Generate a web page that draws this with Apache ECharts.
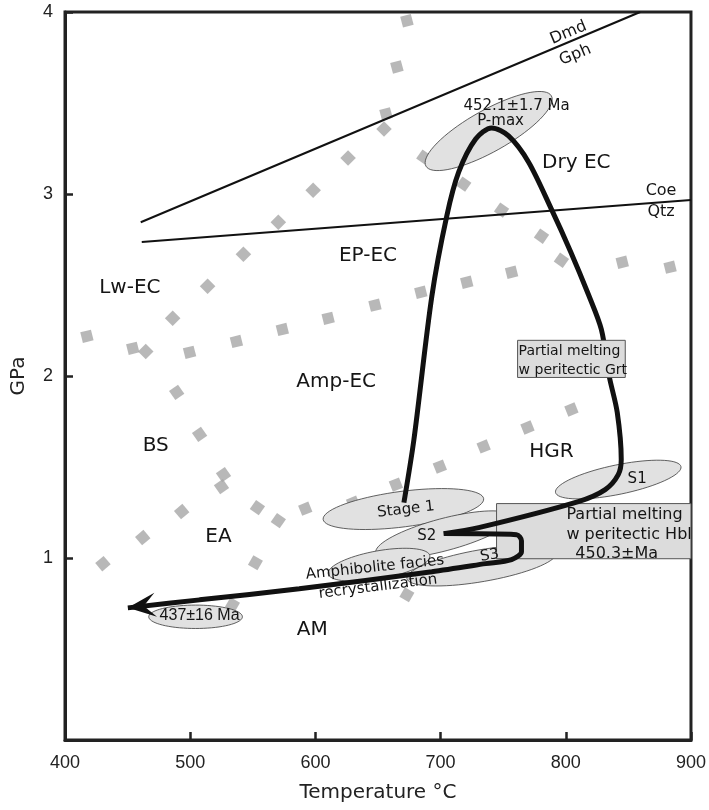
<!DOCTYPE html>
<html>
<head>
<meta charset="utf-8">
<script src="https://cdn.jsdelivr.net/npm/echarts@6/dist/echarts.min.js"></script>
<style>
  html, body { margin: 0; padding: 0; background: #fff; }
  #main { width: 709px; height: 810px; }
</style>
</head>
<body>
<div id="main"></div>
<script>
// reaction curves [T, P]
var dmdGph = [[460.5, 2.845], [859.4, 4.0]];
var coeQtz = [[461.3, 2.736], [900, 2.967]];

// facies boundaries (grey dotted squares)
var lwUpper = [[464.5, 2.135], [486.0, 2.317], [513.9, 2.493], [542.5, 2.669], [570.4, 2.845],
               [598.2, 3.021], [626.1, 3.198], [654.8, 3.357]];
var lwSteep = [[656.4, 3.440], [665.1, 3.698], [673.1, 3.952]];
var dryBound = [[686.6, 3.203], [718.5, 3.054], [748.7, 2.911], [780.6, 2.768], [796.5, 2.636]];
var ampUpper = [[417.5, 2.218], [454.1, 2.152], [499.5, 2.130], [536.9, 2.190], [573.6, 2.256],
                [610.2, 2.317], [647.6, 2.389], [684.2, 2.460], [720.9, 2.515], [756.7, 2.570],
                [845.1, 2.625], [883.3, 2.598]];
var bsSteep = [[489.2, 1.910], [507.5, 1.679], [526.6, 1.458], [525.0, 1.392]];
var eaTop = [[493.2, 1.255], [462.1, 1.112], [430.3, 0.969]];
var eaRight = [[553.7, 1.277], [570.4, 1.205]];
var eaAm = [[552.1, 0.974], [533.8, 0.743], [673.1, 0.798]];
var hgrLine = [[591.9, 1.271], [630.1, 1.304], [664.3, 1.403], [699.4, 1.502], [734.4, 1.613],
               [769.4, 1.717], [804.5, 1.816]];

// P-T path, prograde/peak/decompression and the retrograde tail
var pathA = [[670.7, 1.304], [678.7, 1.651], [693.0, 2.438], [704.9, 2.878], [714.5, 3.121],
             [728.0, 3.302], [740.8, 3.363], [754.3, 3.319], [770.2, 3.176], [788.5, 2.917],
             [803.7, 2.686], [818.0, 2.449], [828.4, 2.256], [834.7, 1.998], [841.1, 1.800],
             [844.3, 1.541], [841.9, 1.458], [831.5, 1.376], [810.0, 1.310], [730.4, 1.167],
             [702.5, 1.134]];
var pathB = [[702.5, 1.134], [760.7, 1.128], [764.6, 1.095], [764.6, 1.035], [756.7, 0.991],
             [736.0, 0.969], [693.0, 0.925], [587.1, 0.831], [507.5, 0.770], [450.2, 0.726]];

// ellipses: centre T, centre P, end of long axis T, P, short/long ratio
var ellipses = [
  [670.3, 1.269, 734.4, 1.326, 0.22],   // Stage 1
  [702.5, 1.128, 756.7, 1.227, 0.23],   // S2
  [650.8, 0.963, 691.4, 1.013, 0.27],   // amphibolite facies
  [732.8, 0.958, 792.5, 1.029, 0.21],   // S3
  [841.9, 1.431, 892.0, 1.502, 0.23],   // S1
  [738.4, 3.346, 788.5, 3.539, 0.29],   // P-max
  [504.3, 0.677, 541.7, 0.677, 0.25]    // 437 Ma
];
// melting boxes: T left, P top, T right, P bottom
var boxGrt = [[761.5, 2.196, 847.5, 1.992]];
var boxHbl = [[744.7, 1.299, 900, 0.996]];

// labels
var faciesLabels = [[451.8, 2.482, 'Lw-EC'], [642.0, 2.658, 'EP-EC'], [616.6, 1.970, 'Amp-EC'],
                    [472.5, 1.618, 'BS'], [522.6, 1.117, 'EA'], [597.5, 0.605, 'AM'],
                    [788.5, 1.585, 'HGR'], [808.4, 3.170, 'Dry EC']];
var reactLabels = [[802.1, 3.886, 'Dmd'], [807.6, 3.764, 'Gph'], [876.1, 3.016, 'Coe'], [876.1, 2.900, 'Qtz']];
var reactRot = [22.8, 22.8, 0, 0];
var sampleLabels = [[672.3, 1.266, 'Stage 1'], [689.0, 1.123, 'S2'], [739.2, 1.013, 'S3'],
                    [857.0, 1.436, 'S1'], [760.7, 3.484, '452.1±1.7 Ma'], [747.9, 3.401, 'P-max'],
                    [647.6, 0.947, 'Amphibolite facies'], [650.0, 0.842, 'recrystallization']];
var sampleRot = [6.5, 0, 10, 0, 0, 0, 6, 7];
var ageLabels = [[507.5, 0.682, '437±16 Ma']];
var grtLabels = [[762.3, 2.135, 'Partial melting'], [762.3, 2.031, 'w peritectic Grt']];
var hblLabels = [[800.5, 1.238, 'Partial melting'], [800.5, 1.128, 'w peritectic Hbl'], [807.6, 1.024, '450.3±Ma']];

var WORD = 'DejaVu Sans';
var NUM = '"Liberation Sans Narrow", "Liberation Sans", sans-serif';

function dots(data, rot) {
  return {
    type: 'scatter', data: data, symbol: 'rect', symbolSize: 11, symbolRotate: rot,
    itemStyle: { color: '#a6a6a6' }, z: 1, silent: true
  };
}

function textSeries(items, size, opts) {
  opts = opts || {};
  return {
    type: 'custom', coordinateSystem: 'cartesian2d', z: 10, silent: true,
    data: items.map(function (d) { return [d[0], d[1]]; }),
    renderItem: function (params, api) {
      var d = items[params.dataIndex];
      var p = api.coord([d[0], d[1]]);
      var r = opts.rotate ? opts.rotate[params.dataIndex] : 0;
      return {
        type: 'text', x: p[0], y: p[1], rotation: r * Math.PI / 180,
        style: {
          text: d[2], fill: '#151515', font: size + 'px ' + (opts.family || WORD),
          align: opts.align || 'center', verticalAlign: 'middle'
        }
      };
    }
  };
}

function boxSeries(data, z) {
  return {
    type: 'custom', coordinateSystem: 'cartesian2d', z: z, silent: true, data: data,
    renderItem: function (params, api) {
      var a = api.coord([api.value(0), api.value(1)]);
      var b = api.coord([api.value(2), api.value(3)]);
      return {
        type: 'rect',
        shape: { x: a[0], y: a[1], width: b[0] - a[0], height: b[1] - a[1] },
        style: { fill: '#dcdcdc', stroke: '#555', lineWidth: 1 }
      };
    }
  };
}

var myChart = echarts.init(document.getElementById('main'));

myChart.setOption({
  animation: false,
  grid: { left: 65, right: 16, top: 12, bottom: 70, show: true, borderColor: '#222', borderWidth: 3 },
  xAxis: {
    type: 'value', min: 400, max: 900, interval: 100,
    axisLine: { lineStyle: { color: '#222', width: 3 } },
    axisTick: { inside: true, length: 8, lineStyle: { color: '#222', width: 2.5 } },
    axisLabel: { margin: 14, fontSize: 18, color: '#222', fontFamily: NUM },
    splitLine: { show: false },
    name: 'Temperature °C', nameLocation: 'middle', nameGap: 43,
    nameTextStyle: { fontSize: 20, color: '#222', fontFamily: WORD }
  },
  yAxis: {
    type: 'value', min: 0, max: 4, interval: 1,
    axisLine: { lineStyle: { color: '#222', width: 3 } },
    axisTick: { inside: true, length: 8, lineStyle: { color: '#222', width: 2.5 } },
    axisLabel: {
      margin: 12, fontSize: 18, color: '#222', fontFamily: NUM,
      formatter: function (v) { return v === 0 ? '' : v; }
    },
    splitLine: { show: false },
    name: 'GPa', nameLocation: 'middle', nameGap: 36, nameRotate: 90,
    nameTextStyle: { fontSize: 20, color: '#222', fontFamily: WORD }
  },
  series: [
    dots(lwUpper, 45), dots(lwSteep, 15), dots(dryBound, -35), dots(ampUpper, 14),
    dots(bsSteep, -55), dots(eaTop, 40), dots(eaRight, -35), dots(eaAm, 60), dots(hgrLine, 22),
    {
      type: 'line', data: dmdGph, symbol: 'none', silent: true, z: 2,
      lineStyle: { color: '#111', width: 2 }
    },
    {
      type: 'line', data: coeQtz, symbol: 'none', silent: true, z: 2,
      lineStyle: { color: '#111', width: 2 }
    },
    {
      type: 'custom', coordinateSystem: 'cartesian2d', z: 3, silent: true, data: ellipses,
      renderItem: function (params, api) {
        var c = api.coord([api.value(0), api.value(1)]);
        var e = api.coord([api.value(2), api.value(3)]);
        var dx = e[0] - c[0], dy = e[1] - c[1];
        var a = Math.sqrt(dx * dx + dy * dy);
        var b = a * api.value(4);
        var ang = Math.atan2(dy, dx);
        var pts = [];
        for (var i = 0; i < 72; i++) {
          var t = i / 72 * Math.PI * 2;
          var x = a * Math.cos(t), y = b * Math.sin(t);
          pts.push([c[0] + x * Math.cos(ang) - y * Math.sin(ang), c[1] + x * Math.sin(ang) + y * Math.cos(ang)]);
        }
        return {
          type: 'polygon', shape: { points: pts },
          style: { fill: '#e1e1e1', stroke: '#3a3a3a', lineWidth: 0.8 }
        };
      }
    },
    boxSeries(boxHbl, 4),
    {
      type: 'line', data: pathA, symbol: 'none', smooth: 0.3, silent: true, z: 5,
      lineStyle: { color: '#111', width: 5 }
    },
    {
      type: 'line', data: pathB, symbol: 'none', smooth: 0.3, silent: true, z: 5,
      lineStyle: { color: '#111', width: 5 }
    },
    {
      // arrowhead at the end of the retrograde path
      type: 'custom', coordinateSystem: 'cartesian2d', z: 6, silent: true,
      data: [pathB[pathB.length - 1]],
      renderItem: function (params, api) {
        var tip = api.coord(pathB[pathB.length - 1]);
        var prev = api.coord(pathB[pathB.length - 2]);
        var dx = tip[0] - prev[0], dy = tip[1] - prev[1];
        var l = Math.sqrt(dx * dx + dy * dy);
        var ux = dx / l, uy = dy / l, nx = -uy, ny = ux;
        var L = 28, W = 12;
        return {
          type: 'polygon',
          shape: {
            points: [
              tip,
              [tip[0] - L * ux + W * nx, tip[1] - L * uy + W * ny],
              [tip[0] - 16 * ux, tip[1] - 16 * uy],
              [tip[0] - L * ux - W * nx, tip[1] - L * uy - W * ny]
            ]
          },
          style: { fill: '#111' }
        };
      }
    },
    boxSeries(boxGrt, 7),
    textSeries(faciesLabels, 20),
    textSeries(reactLabels, 16, { rotate: reactRot }),
    textSeries(sampleLabels, 15, { rotate: sampleRot }),
    textSeries(ageLabels, 16, { family: '"Liberation Sans", sans-serif' }),
    textSeries(grtLabels, 14, { align: 'left' }),
    textSeries(hblLabels, 16, { align: 'left' })
  ]
});
</script>
</body>
</html>
